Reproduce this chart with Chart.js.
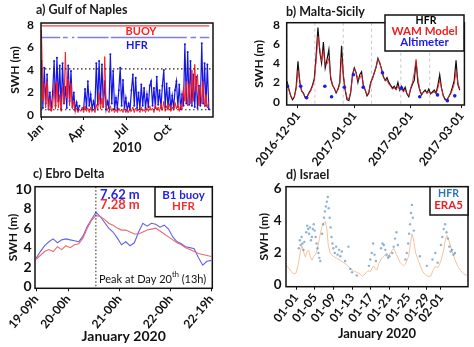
<!DOCTYPE html>
<html>
<head>
<meta charset="utf-8">
<script src="https://cdn.jsdelivr.net/npm/chart.js@4.4.1/dist/chart.umd.min.js"></script>
<style>
  body { margin: 0; background: #fff; }
  #wrap { position: relative; width: 474px; height: 347px; overflow: hidden; font-family: Lato, "DejaVu Sans", sans-serif; }
  #wrap canvas { position: absolute; }
  .ttl { position: absolute; font-weight: bold; font-size: 12.5px; line-height: 14px; color: #1a1a1a; white-space: nowrap; }
</style>
</head>
<body>
<div id="wrap">
  <canvas id="chartA" width="237" height="160" style="left:0;top:0"></canvas>
  <canvas id="chartB" width="237" height="170" style="left:237px;top:0"></canvas>
  <canvas id="chartC" width="237" height="177" style="left:0;top:170px"></canvas>
  <canvas id="chartD" width="237" height="177" style="left:237px;top:170px"></canvas>
  <div class="ttl" style="left:36px;top:3px">a) Gulf of Naples</div>
  <div class="ttl" style="left:286px;top:5px">b) Malta-Sicily</div>
  <div class="ttl" style="left:33px;top:167px">c) Ebro Delta</div>
  <div class="ttl" style="left:286px;top:168px">d) Israel</div>
</div>
<script>
// a) Gulf of Naples 2010 - one value every 3 days from 1 Jan
const naplesStep = 3;
const naplesHfr = [
  4.8, 0.6, 4.2, 1.0, 3.6, 0.5, 2.0, 0.4, 2.1, 4.8,
  0.8, 5.1, 1.2, 4.4, 0.5, 4.6, 1.0, 2.5, 0.6, 4.4,
  1.2, 3.9, 0.7, 2.0, 0.4, 1.1, 0.4, 0.8, null, null,
  0.5, 2.3, 0.6, 3.0, 0.8, 1.8, 0.5, 1.2, 0.6, 4.6,
  0.9, 4.8, 1.0, 4.5, 0.7, 3.0, 0.5, 1.2, 0.6, 5.4,
  1.0, 3.9, 0.5, 1.5, 0.6, 2.2, 4.2, 0.8, 3.1, 0.5,
  1.5, 0.4, 1.0, 0.5, 2.2, 3.6, 0.8, 3.3, 0.6, 2.0,
  0.5, 2.7, 0.8, 2.4, 0.6, 1.8, 0.7, 2.6, 3.0, 0.8,
  2.4, 0.6, 3.4, 0.9, 2.2, 0.6, 2.6, 4.0, 0.7, 2.8,
  0.6, 2.4, 0.5, 1.7, 0.6, 2.2, 3.0, 0.7, 2.7, 0.5,
  1.8, 0.8, 6.3, 1.0, 5.6, 0.9, 4.8, 0.8, 3.6, 0.7,
  3.4, 0.6, 2.6, 0.8, 6.4, 1.0, 4.6, 0.8, 4.5, 0.5,
  null, null
];
const naplesBuoy = [
  7.6, 1.2, 2.8, 0.6, 3.0, 0.4, 1.5, 0.3, 0.8, 2.8,
  0.5, 3.0, 0.6, 1.8, 0.3, 2.5, 1.0, 5.6, 1.5, 3.2,
  0.8, 2.8, 0.5, 1.2, 0.3, 0.6, 0.2, 0.5, 0.3, 0.7,
  0.2, 0.8, 0.3, 0.6, 0.2, 0.7, 0.3, 0.5, 0.2, 0.9,
  0.4, 2.0, 0.5, 1.5, 0.6, 5.2, 0.8, 0.4, 0.2, 0.8,
  0.3, 0.6, 0.2, 0.5, 0.2, 0.6, 0.3, 0.5, 0.2, 0.6,
  0.2, 0.5, 0.2, 0.6, 0.3, 0.7, 0.2, 0.6, 0.3, 0.5,
  0.2, 0.7, 0.3, 0.5, 0.2, 0.6, 0.3, 0.8, 0.4, 0.6,
  0.2, 0.9, 0.4, 0.7, 0.3, 1.0, 0.4, 1.2, 0.3, 0.8,
  0.4, 1.0, 0.3, 0.7, 0.4, 1.1, 0.5, 1.0, 0.3, 0.9,
  0.5, 2.5, 1.2, 3.0, 0.8, 2.8, 1.0, 4.0, 1.2, 4.5,
  2.0, 3.6, 0.8, 2.5, 1.0, 3.0, 0.7, 1.8, 0.6, 1.2,
  null, null
];
const naplesBuoyCover = [[0, 358]];
const naplesHfrCover = [[0, 40], [46, 56], [65, 70], [77, 143], [148, 310], [318, 330], [338, 358]];
const naplesBuoyLevel = 7.95;
const naplesHfrLevel = 6.9;
const naplesRefLevels = [4.1, 0.45];
const naplesTickDays = [0, 90, 181, 273];
const naplesTickLabels = ['Jan', 'Apr', 'Jul', 'Oct'];

// b) Malta-Sicily - daily values, day 0 = 2016-12-01
const maltaStart = -6;
const maltaHfr = [
  2.1, 1.3, 0.6, 0.2, 0.5, 1.5,
  4.2, 2.0, 1.1, 0.9, 0.4, 0.5, 0.9, 1.2, 1.7, 2.4,
  4.8, 7.7, 5.2, 4.0, 6.2, 3.5, 4.4, 5.4, 2.4, 1.7,
  1.4, 0.9, 1.3, 2.0, 5.8, 2.6, 1.2, 0.2, 0.1, 0.9,
  2.8, 3.5, 3.0, 2.0, 2.8, 3.1, 1.6, 1.2, 0.6, 0.9,
  2.0, 2.4, 3.0, 3.6, 4.5, 4.0, 3.4, 2.6, 2.2, 2.5,
  2.0, 1.7, 1.4, 1.6, 1.3, 2.0, 1.2, 1.6, 1.1, 1.5,
  0.8, 0.5, 1.3, 1.8, 2.2, 4.2, 2.0, 1.2, 0.7, 1.0,
  1.2, 0.9, 1.3, 0.8, 1.0, 1.2, 0.9, 1.7, 2.8, 1.4,
  0.6, 0.2, 0.2, 0.5, 0.9, 1.5, 2.2, 4.3, 1.8, 1.2
];
const maltaWam = [
  1.9, 1.2, 0.6, 0.3, 0.5, 1.3,
  3.2, 2.2, 1.2, 0.8, 0.5, 0.5, 0.8, 1.1, 1.6, 2.2,
  4.2, 6.8, 5.5, 4.2, 5.3, 3.8, 3.9, 4.5, 2.6, 1.8,
  1.3, 1.0, 1.2, 1.8, 4.6, 2.8, 1.3, 0.4, 0.3, 1.0,
  2.6, 3.4, 3.0, 2.2, 2.4, 2.8, 1.8, 1.2, 0.7, 1.0,
  1.9, 2.4, 3.0, 3.6, 4.4, 4.1, 3.3, 2.6, 2.2, 2.2,
  1.8, 1.6, 1.3, 1.4, 1.2, 1.6, 1.2, 1.4, 1.0, 1.2,
  0.8, 0.6, 1.4, 2.0, 3.0, 4.4, 2.4, 1.3, 0.8, 0.9,
  1.1, 0.9, 1.0, 0.8, 0.9, 1.0, 0.8, 1.4, 2.2, 1.4,
  0.6, 0.3, 0.2, 0.5, 0.8, 1.2, 1.8, 3.2, 2.0, 1.3
];
const maltaAltDays = [-5.8, 1.5, 4.8, 14.8, 18.5, 25.5, 30.5, 35.9, 46.5, 57, 67, 76.8, 82.2, 86.3];
const maltaAltVals = [1.6, 1.6, 0.4, 1.6, 0.5, 1.5, 2.8, 1.5, 3.0, 1.4, 0.5, 0.7, 0.1, 0.6];
const maltaGridDays = [-6.2, 9.3, 24.9, 40.5, 56.6, 72.5];
const maltaTickDays = [0, 31, 62, 90];
const maltaTickLabels = ['2016-12-01', '2017-01-01', '2017-02-01', '2017-03-01'];

// c) Ebro Delta - every 2 h from 19 Jan 09h
const ebroStep = 2;
const ebroBuoy = [
  2.9, 3.6, 4.2, 4.6, 4.9, 4.5, 4.8, 4.9, 4.8, 4.7, 4.6, 5.2, 6.2, 6.9, 7.62,
  7.2, 6.6, 6.0, 5.6, 5.0, 4.3, 4.6, 4.2, 4.5, 5.6, 6.5, 6.2, 6.5, 6.4,
  6.1, 6.3, 5.9, 5.1, 4.6, 4.4, 4.1, 4.0, 3.9, 3.0, 2.2, 2.6, 2.7
];
const ebroHfr = [
  2.8, 3.2, 3.6, 3.8, 3.6, 4.1, 3.8, 4.2, 4.0, 4.3, 4.4, 5.0, 6.0, 6.8, 7.28,
  7.2, 6.9, 6.5, 6.3, 6.0, 5.8, 5.8, 5.6, 5.4, 5.4, 5.6, 5.8, 5.9, 6.0,
  5.7, 5.4, 5.1, 4.8, 4.5, 4.3, 4.0, 3.8, 3.6, 3.4, 3.3, 3.2, 3.1
];
const ebroPeakHour = 28;
const ebroTickHours = [0, 15, 39, 63, 82];
const ebroTickLabels = ['19-09h', '20-00h', '21-00h', '22-00h', '22-19h'];

// d) Israel - day 0 = 2020-01-01
const israelHfrDays = [
  0.6, 0.8, 1.0, 1.2, 1.4, 1.6, 1.8, 2.2, 2.4, 2.6, 2.8, 3.0, 3.2, 3.4,
  3.6, 3.8, 4.0, 4.2, 4.4, 4.6, 4.8, 5.0, 5.2,
  5.6, 5.8, 6.0, 6.2, 6.4, 6.6, 6.8, 7.0, 7.2, 7.4, 7.6, 7.8,
  8.0, 8.3, 8.6, 8.9, 9.2, 9.5, 9.8, 10.5, 11.2, 11.6, 12.0, 13.0,
  15.6, 15.9, 16.2, 16.5, 16.8, 17.1, 18.2, 18.5, 18.8, 19.1, 19.4, 19.7, 20.0,
  20.6, 20.9, 21.2, 21.5, 21.8, 23.4, 23.7, 24.0, 24.2, 24.4, 24.6, 24.8, 25.0, 25.2,
  26.5, 28.0, 29.2, 29.8, 30.3, 31.0, 31.3, 31.6, 31.9, 32.2, 32.5,
  32.8, 33.1, 33.4, 33.7, 34.0
];
const israelHfrVals = [
  2.3, 2.8, 2.5, 3.0, 2.6, 2.2, 2.7, 3.3, 3.7, 3.5, 3.2, 3.6, 2.8, 3.0,
  3.5, 3.8, 3.4, 3.0, 2.6, 2.3, 2.0, 1.7, 1.5,
  3.2, 3.8, 4.2, 4.6, 4.9, 5.2, 5.5, 4.8, 4.2, 3.6, 3.0, 2.6,
  2.3, 2.0, 2.4, 1.9, 2.2, 1.8, 2.1, 1.5, 2.4, 1.0, 0.8, 0.6,
  1.2, 1.6, 2.0, 2.6, 1.9, 1.5, 2.3, 2.6, 2.5, 2.2, 1.9, 1.7, 1.8,
  2.0, 2.4, 2.9, 3.3, 2.5, 1.6, 2.0, 2.6, 3.2, 3.8, 4.5, 5.0, 4.2, 3.4,
  1.8, 1.2, 1.6, 2.0, 1.4, 2.5, 3.0, 3.5, 3.8, 3.3, 2.9,
  2.4, 2.1, 2.2, 1.9, 2.0
];
const israelEraDays = [
  -2, -1.5, -1, -0.5, 0, 0.5, 1.0, 1.3, 1.7, 2.0, 2.4, 2.7, 3.0, 3.4, 3.8,
  4.2, 4.6, 5.0, 5.5, 6.0, 6.3, 6.6, 6.9, 7.3, 8.0, 8.6, 9.4, 10.2, 10.9, 11.6,
  12.3, 13.0, 13.7, 14.2, 14.8, 15.4, 15.9, 16.6, 17.0, 17.3, 17.8, 18.4, 19.1, 19.6, 20.2,
  20.9, 21.5, 22.3, 23.0, 23.4, 24.1, 24.5, 24.8, 25.1, 25.6, 26.3, 27.0, 27.5, 28.2, 28.8,
  29.3, 29.8, 30.4, 31.0, 31.6, 32.0, 32.3, 32.8, 33.4, 34.0, 34.5, 35.2, 35.9, 36.6
];
const israelEraVals = [
  1.2, 1.05, 0.85, 0.7, 0.75, 1.3, 2.2, 2.45, 2.0, 1.75, 2.1, 2.2, 1.8, 1.55, 1.8,
  1.9, 2.3, 2.9, 3.6, 3.9, 3.95, 3.5, 2.5, 2.0, 1.8, 1.7, 1.55, 1.4, 1.25, 1.05,
  0.9, 0.8, 0.7, 0.55, 0.7, 0.9, 0.85, 1.2, 1.0, 0.95, 1.4, 1.7, 1.9, 1.75, 2.0,
  2.3, 1.9, 1.4, 1.2, 1.3, 1.8, 2.6, 3.2, 2.9, 2.0, 1.45, 0.9, 0.7, 0.55, 0.55,
  0.9, 1.15, 1.1, 1.5, 2.2, 2.9, 3.1, 2.7, 2.1, 1.6, 1.25, 0.9, 0.7, 0.6
];
const israelTickDays = [0, 4, 8, 12, 16, 20, 24, 28, 31];
const israelTickLabels = ['01-01', '01-05', '01-09', '01-13', '01-17', '01-21', '01-25', '01-29', '02-01'];

const FONT = 'Lato, "DejaVu Sans", sans-serif';
Chart.defaults.font.family = FONT;
Chart.defaults.font.weight = 'bold';
Chart.defaults.color = '#111';

const series = (vals, step, start = 0) => vals.map((v, i) => ({x: start + i * step, y: v}));
const pairs = (xs, ys) => xs.map((x, i) => ({x: x, y: ys[i]}));
const segments = (segs, level) => segs.flatMap(([a, b]) => [{x: a, y: level}, {x: b, y: level}, {x: b, y: null}]);

function drawLines(chart, list) {
    const {ctx, chartArea: a, scales} = chart;
    list.forEach(l => l.values.forEach(v => {
        ctx.save();
        ctx.strokeStyle = l.color;
        ctx.lineWidth = l.width;
        ctx.setLineDash(l.dash || []);
        ctx.beginPath();
        if (l.axis === 'x') {
            const p = scales.x.getPixelForValue(v);
            ctx.moveTo(p, a.top); ctx.lineTo(p, a.bottom);
        } else {
            const p = scales.y.getPixelForValue(v);
            ctx.moveTo(a.left, p); ctx.lineTo(a.right, p);
        }
        ctx.stroke();
        ctx.restore();
    }));
}

function drawText(ctx, t) {
    const parts = t.parts || [{t: t.t}];
    const fontOf = p => `${p.w || t.w || 'bold'} ${p.s || t.s}px ${FONT}`;
    let w = 0;
    parts.forEach(p => { ctx.font = fontOf(p); w += ctx.measureText(p.t).width; });
    let x = t.a === 'center' ? t.x - w / 2 : t.x;
    ctx.textBaseline = 'middle';
    ctx.textAlign = 'left';
    ctx.fillStyle = t.c;
    parts.forEach(p => {
        ctx.font = fontOf(p);
        ctx.fillText(p.t, x, t.y + (p.dy || 0));
        x += ctx.measureText(p.t).width;
    });
}

const deco = {
    id: 'deco',
    beforeDatasetsDraw(chart, args, o) {
        drawLines(chart, (o.lines || []).filter(l => l.under));
    },
    afterDatasetsDraw(chart, args, o) {
        const {ctx, chartArea: a} = chart;
        drawLines(chart, (o.lines || []).filter(l => !l.under));
        ctx.save();
        ctx.strokeStyle = '#111';
        ctx.lineWidth = 1.5;
        ctx.strokeRect(a.left, a.top, a.right - a.left, a.bottom - a.top);
        if (o.box) {
            ctx.fillStyle = '#fff';
            ctx.fillRect(o.box.x, o.box.y, o.box.w, o.box.h);
            ctx.strokeRect(o.box.x, o.box.y, o.box.w, o.box.h);
        }
        (o.texts || []).forEach(t => drawText(ctx, t));
        ctx.restore();
    }
};

function xAxis(o) {
    return {
        type: 'linear', min: o.min, max: o.max,
        afterBuildTicks: s => { s.ticks = o.ticks.map(v => ({value: v})); },
        afterFit: s => { s.height = o.height; },
        grid: {display: true, drawOnChartArea: false, drawTicks: true, tickLength: 3, color: '#111'},
        border: {display: false},
        ticks: {autoSkip: false, maxRotation: o.rot, minRotation: o.rot, padding: 1,
                font: {size: o.size}, callback: (v, i) => o.labels[i]},
        title: o.title ? {display: true, text: o.title, font: {size: o.tsize},
                          padding: {top: 0, bottom: o.tpad}} : {display: false}
    };
}

function yAxis(o) {
    return {
        type: 'linear', min: o.min, max: o.max,
        afterBuildTicks: s => { s.ticks = o.ticks.map(v => ({value: v})); },
        afterFit: s => { s.width = o.width; },
        grid: {display: false, drawTicks: false},
        border: {display: false},
        ticks: {padding: o.pad, font: {size: o.size}},
        title: {display: true, text: 'SWH (m)', font: {size: 12}, padding: {top: o.tpad, bottom: 0}}
    };
}

function options(o) {
    return {
        responsive: false,
        animation: false,
        layout: {padding: o.padding},
        elements: {point: {radius: 0}, line: {tension: 0}},
        scales: {x: o.x, y: o.y},
        plugins: {legend: {display: false}, tooltip: {enabled: false}, deco: o.deco}
    };
}

new Chart(document.getElementById('chartA'), {
    type: 'line',
    data: {
        datasets: [
            {data: series(naplesBuoy, naplesStep), borderColor: '#ff1c1c', borderWidth: 1},
            {data: series(naplesHfr, naplesStep), borderColor: '#1616e4', borderWidth: 1.2,
             pointRadius: 1, pointBackgroundColor: '#1616e4', pointBorderWidth: 0},
            {data: segments(naplesBuoyCover, naplesBuoyLevel), borderColor: '#ff3a3a', borderWidth: 1.3},
            {data: segments(naplesHfrCover, naplesHfrLevel), borderColor: '#7d7deb', borderWidth: 1.6}
        ]
    },
    options: options({
        padding: {left: 0, top: 23, right: 24, bottom: 0},
        x: xAxis({min: -1, max: 366, ticks: naplesTickDays, labels: naplesTickLabels, rot: 45, size: 12,
                  height: 43, title: '2010', tsize: 12.5, tpad: 5}),
        y: yAxis({min: -0.2, max: 8.2, ticks: [0, 2, 4, 6, 8], width: 41, pad: 7, size: 12, tpad: 7.8}),
        deco: {
            lines: [{axis: 'y', values: naplesRefLevels, color: '#222', width: 1.2, dash: [1.5, 2.5]}],
            texts: [
                {t: 'BUOY', x: 141, y: 31, c: '#ff2020', s: 11, a: 'center'},
                {t: 'HFR', x: 137, y: 45, c: '#1a1ae6', s: 11, a: 'center'}
            ]
        }
    }),
    plugins: [deco]
});

new Chart(document.getElementById('chartB'), {
    type: 'line',
    data: {
        datasets: [
            {data: pairs(maltaAltDays, maltaAltVals), showLine: false, pointRadius: 1.8,
             pointBackgroundColor: '#1a1aee', pointBorderWidth: 0},
            {data: series(maltaWam, 1, maltaStart), borderColor: 'rgba(235,30,40,0.85)', borderWidth: 1},
            {data: series(maltaHfr, 1, maltaStart), borderColor: '#111', borderWidth: 1.2}
        ]
    },
    options: options({
        padding: {left: 0, top: 22.7, right: 9.3, bottom: 0},
        x: xAxis({min: -6.2, max: 91.6, ticks: maltaTickDays, labels: maltaTickLabels, rot: 52, size: 12, height: 65}),
        y: yAxis({min: -0.35, max: 8.2, ticks: [0, 2, 4, 6, 8], width: 49.7, pad: 6.7, size: 12, tpad: 14.8}),
        deco: {
            lines: [{axis: 'x', values: maltaGridDays, color: '#c8c8c8', width: 1, dash: [3, 3], under: true}],
            box: {x: 148, y: 15, w: 79, h: 36},
            texts: [
                {t: 'HFR', x: 189, y: 21, c: '#000', s: 10.5, a: 'center'},
                {t: 'WAM Model', x: 187.5, y: 31.5, c: '#f02020', s: 11.5, a: 'center'},
                {t: 'Altimeter', x: 187.5, y: 42, c: '#1a1aee', s: 11.5, a: 'center'}
            ]
        }
    }),
    plugins: [deco]
});

new Chart(document.getElementById('chartC'), {
    type: 'line',
    data: {
        datasets: [
            {data: series(ebroHfr, ebroStep), borderColor: '#f06a6a', borderWidth: 1.1},
            {data: series(ebroBuoy, ebroStep), borderColor: '#6262ee', borderWidth: 1.1}
        ]
    },
    options: options({
        padding: {left: 0, top: 16.7, right: 24.7, bottom: 0},
        x: xAxis({min: -0.5, max: 82.5, ticks: ebroTickHours, labels: ebroTickLabels, rot: 50, size: 12,
                  height: 58.7, title: 'January 2020', tsize: 14, tpad: 2.6}),
        y: yAxis({min: -0.16, max: 10.24, ticks: [0, 2, 4, 6, 8, 10], width: 35, pad: 3.5, size: 14, tpad: 5.8}),
        deco: {
            lines: [{axis: 'x', values: [ebroPeakHour], color: '#222', width: 1, dash: [1.5, 2]}],
            box: {x: 155, y: 17, w: 57.3, h: 29.7},
            texts: [
                {t: 'B1 buoy', x: 183.5, y: 25, c: '#2424e6', s: 11.5, a: 'center'},
                {t: 'HFR', x: 183.5, y: 36, c: '#f03030', s: 11.5, a: 'center'},
                {t: '7.62 m', x: 100, y: 24.5, c: '#2424e6', s: 13},
                {t: '7.28 m', x: 100, y: 35, c: '#f03030', s: 13},
                {parts: [{t: 'Peak at Day 20'}, {t: 'th', s: 7.5, dy: -4}, {t: ' (13h)'}],
                 x: 99, y: 109, c: '#111', s: 11, w: 'normal'}
            ]
        }
    }),
    plugins: [deco]
});

new Chart(document.getElementById('chartD'), {
    type: 'line',
    data: {
        datasets: [
            {data: pairs(israelHfrDays, israelHfrVals), showLine: false, pointRadius: 1.2,
             pointBackgroundColor: 'rgba(46,117,182,0.55)', pointBorderWidth: 0},
            {data: pairs(israelEraDays, israelEraVals), borderColor: '#f7c29c', borderWidth: 1}
        ]
    },
    options: options({
        padding: {left: 0, top: 16.7, right: 6, bottom: 0},
        x: xAxis({min: -2.14, max: 36.8, ticks: israelTickDays, labels: israelTickLabels, rot: 52, size: 12,
                  height: 60.3, title: 'January 2020', tsize: 13, tpad: 5.7}),
        y: yAxis({min: -0.1, max: 6.14, ticks: [0, 1, 2, 3, 4, 5, 6], width: 49, pad: 4.5, size: 13.5, tpad: 19.8}),
        deco: {
            box: {x: 193, y: 16.7, w: 38, h: 28.3},
            texts: [
                {t: 'HFR', x: 211.5, y: 23.5, c: '#2e75b6', s: 10.5, a: 'center'},
                {t: 'ERA5', x: 211.5, y: 35, c: '#ee1c25', s: 11.5, a: 'center'}
            ]
        }
    }),
    plugins: [deco]
});
</script>
</body>
</html>
